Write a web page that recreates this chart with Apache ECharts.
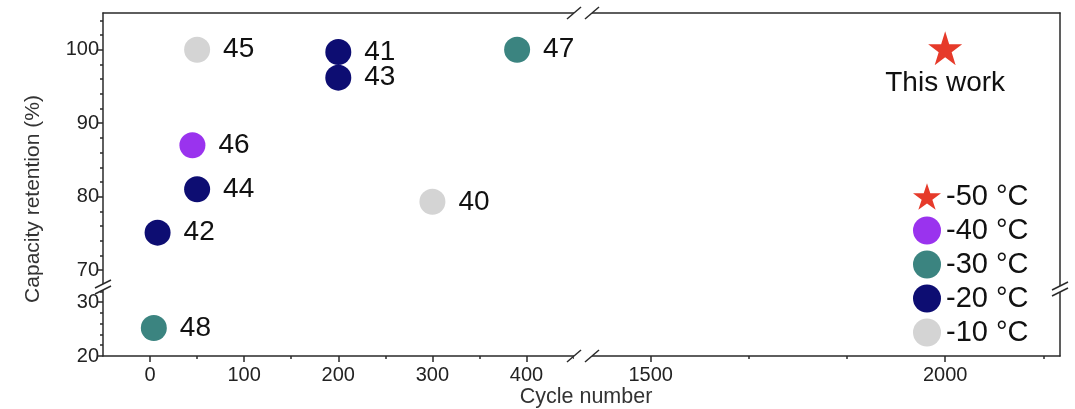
<!DOCTYPE html>
<html>
<head>
<meta charset="utf-8">
<script src="https://cdn.jsdelivr.net/npm/echarts@6/dist/echarts.min.js"></script>
<style>html,body{margin:0;padding:0;background:#fff}#c{width:1075px;height:409px}</style>
</head>
<body>
<div id="c"></div>
<script>
// ---- data ----
const refs      = ['45', '41', '43', '47', '46', '44', '42', '40', '48', 'This work'];
const cycles    = [50, 200, 200, 390, 45, 50, 8, 300, 4, 2000];
const retention = [100, 99.7, 96.2, 100, 87, 81, 75.1, 79.3, 25.2, 100.2];
const temps     = [-10, -20, -20, -30, -40, -20, -20, -10, -30, -50];
const legendTemps = [-50, -40, -30, -20, -10];
const xTicksA = [0, 100, 200, 300, 400];
const xMinorA = [50, 150, 250, 350, 450];
const xTicksB = [1500, 2000];
const xMinorB = [1666.7, 1833.3, 2166.7];
const yTicksA = [70, 80, 90, 100];
const yMinorA = [72, 74, 76, 78, 82, 84, 86, 88, 92, 94, 96, 98, 102, 104];
const yTicksB = [20, 30];
const yMinorB = [22, 24, 26, 28, 32];
const xRangeA = [-50, 460], xRangeB = [1385, 2195];
const yRangeA = [67.7, 105], yRangeB = [20, 32.8];

// ---- styles ----
const FONT = '"Liberation Sans", Arial, Helvetica, sans-serif';
const colors = { '-50': '#e63a2a', '-40': '#9a33ee', '-30': '#3b8480', '-20': '#0d0d72', '-10': '#d4d4d4' };
const STAR = 'path://M50 0 L61.23 34.55 L97.55 34.55 L68.17 55.9 L79.39 90.45 L50 69.1 L20.61 90.45 L31.83 55.9 L2.45 34.55 L38.77 34.55 Z';
const L = 103, XB = 583, R = 1060, T = 13, YB = 287, B = 356;
const AX = '#2a2a2a';

const chart = echarts.init(document.getElementById('c'), null, { renderer: 'canvas' });

const grids = [
  { left: L, top: T, width: XB - L, height: YB - T },
  { left: XB, top: T, width: R - XB, height: YB - T },
  { left: L, top: YB, width: XB - L, height: B - YB },
  { left: XB, top: YB, width: R - XB, height: B - YB }
].map(g => Object.assign(g, { outerBoundsMode: 'none', containLabel: false, show: false }));

function xAx(grid, range, pos, opts) {
  return Object.assign({
    type: 'value', gridIndex: grid, min: range[0], max: range[1], position: pos,
    splitLine: { show: false },
    axisLine: { show: true, onZero: false, lineStyle: { color: AX, width: 1.5 } },
    axisTick: { show: false },
    axisLabel: { show: false }
  }, opts || {});
}
function ticks(vals, len) {
  return { show: true, inside: false, length: len, customValues: vals, lineStyle: { color: AX, width: 1.5 } };
}
function labels(vals, margin) {
  return { show: true, customValues: vals, margin: margin, color: '#222', fontSize: 20, fontFamily: FONT,
           formatter: v => String(v) };
}

const xAxis = [
  xAx(0, xRangeA, 'top'),
  xAx(1, xRangeB, 'top'),
  xAx(2, xRangeA, 'bottom', { axisTick: ticks(xTicksA, 6), axisLabel: labels(xTicksA, 9) }),
  xAx(3, xRangeB, 'bottom', { axisTick: ticks(xTicksB, 6), axisLabel: labels(xTicksB, 9) }),
  xAx(2, xRangeA, 'bottom', { axisLine: { show: false, onZero: false }, axisTick: ticks(xMinorA, 3) }),
  xAx(3, xRangeB, 'bottom', { axisLine: { show: false, onZero: false }, axisTick: ticks(xMinorB, 3) })
];
const yAxis = [
  xAx(0, yRangeA, 'left', { axisTick: ticks(yTicksA, 6), axisLabel: labels(yTicksA, 4) }),
  xAx(1, yRangeA, 'right'),
  xAx(2, yRangeB, 'left', { axisTick: ticks(yTicksB, 6), axisLabel: labels(yTicksB, 4) }),
  xAx(3, yRangeB, 'right'),
  xAx(0, yRangeA, 'left', { axisLine: { show: false, onZero: false }, axisTick: ticks(yMinorA, 3) }),
  xAx(2, yRangeB, 'left', { axisLine: { show: false, onZero: false }, axisTick: ticks(yMinorB, 3) })
];

// ---- build series grouped by temperature & grid segment ----
const groups = {};
refs.forEach((r, i) => {
  const gi = (retention[i] < 50 ? 2 : 0) + (cycles[i] >= 1000 ? 1 : 0);
  const key = temps[i] + '|' + gi;
  if (!groups[key]) groups[key] = { temp: temps[i], grid: gi, data: [] };
  groups[key].data.push({ name: r, value: [cycles[i], retention[i]] });
});
const series = legendTemps.flatMap(t => Object.values(groups).filter(g => g.temp === t)).map(g => {
  const star = g.temp === -50;
  return {
    type: 'scatter',
    name: g.temp + ' °C',
    xAxisIndex: g.grid, yAxisIndex: g.grid,
    symbol: star ? STAR : 'circle',
    symbolSize: star ? 34 : 26,
    itemStyle: { color: colors[String(g.temp)], opacity: 1 },
    label: {
      show: true, formatter: '{b}', position: star ? 'bottom' : 'right',
      distance: star ? 4 : 13, color: '#111', fontSize: 28, fontFamily: FONT
    },
    emphasis: { disabled: true },
    data: g.data
  };
});

// ---- break marks ----
function hBreak(cx, y) {
  return [
    { type: 'rect', shape: { x: cx - 9, y: y - 3, width: 18, height: 6 }, style: { fill: '#fff' }, z: 100 },
    { type: 'line', shape: { x1: cx - 16, y1: y + 6, x2: cx - 2, y2: y - 6 }, style: { stroke: AX, lineWidth: 1.5 }, z: 101 },
    { type: 'line', shape: { x1: cx + 2, y1: y + 6, x2: cx + 16, y2: y - 6 }, style: { stroke: AX, lineWidth: 1.5 }, z: 101 }
  ];
}
function vBreak(x, cy) {
  return [
    { type: 'rect', shape: { x: x - 3, y: cy - 3, width: 6, height: 6 }, style: { fill: '#fff' }, z: 100 },
    { type: 'line', shape: { x1: x - 8, y1: cy + 1, x2: x + 8, y2: cy - 7 }, style: { stroke: AX, lineWidth: 1.5 }, z: 101 },
    { type: 'line', shape: { x1: x - 8, y1: cy + 7, x2: x + 8, y2: cy - 1 }, style: { stroke: AX, lineWidth: 1.5 }, z: 101 }
  ];
}

const graphic = [].concat(
  hBreak(XB, T), hBreak(XB, B), vBreak(L, YB), vBreak(R, YB + 2),
  [
    { type: 'text', x: 33, y: 199, rotation: Math.PI / 2,
      style: { text: 'Capacity retention (%)', x: 0, y: 0, fill: '#333', font: '21px ' + FONT,
               textAlign: 'center', textVerticalAlign: 'middle', align: 'center', verticalAlign: 'middle' } },
    { type: 'text', x: 586, y: 397,
      style: { text: 'Cycle number', x: 0, y: 0, fill: '#333', font: '21.5px ' + FONT,
               textAlign: 'center', textVerticalAlign: 'middle', align: 'center', verticalAlign: 'middle' } }
  ]
);

chart.setOption({
  animation: false,
  backgroundColor: '#fff',
  textStyle: { fontFamily: FONT },
  grid: grids,
  xAxis: xAxis,
  yAxis: yAxis,
  legend: {
    orient: 'vertical', left: 913, top: 182, padding: 0,
    itemWidth: 28, itemHeight: 28, itemGap: 5,
    textStyle: { fontSize: 29, color: '#111', fontFamily: FONT },
    data: legendTemps.map(t => t + ' °C'),
    selectedMode: false
  },
  series: series,
  graphic: graphic
});
</script>
</body>
</html>
